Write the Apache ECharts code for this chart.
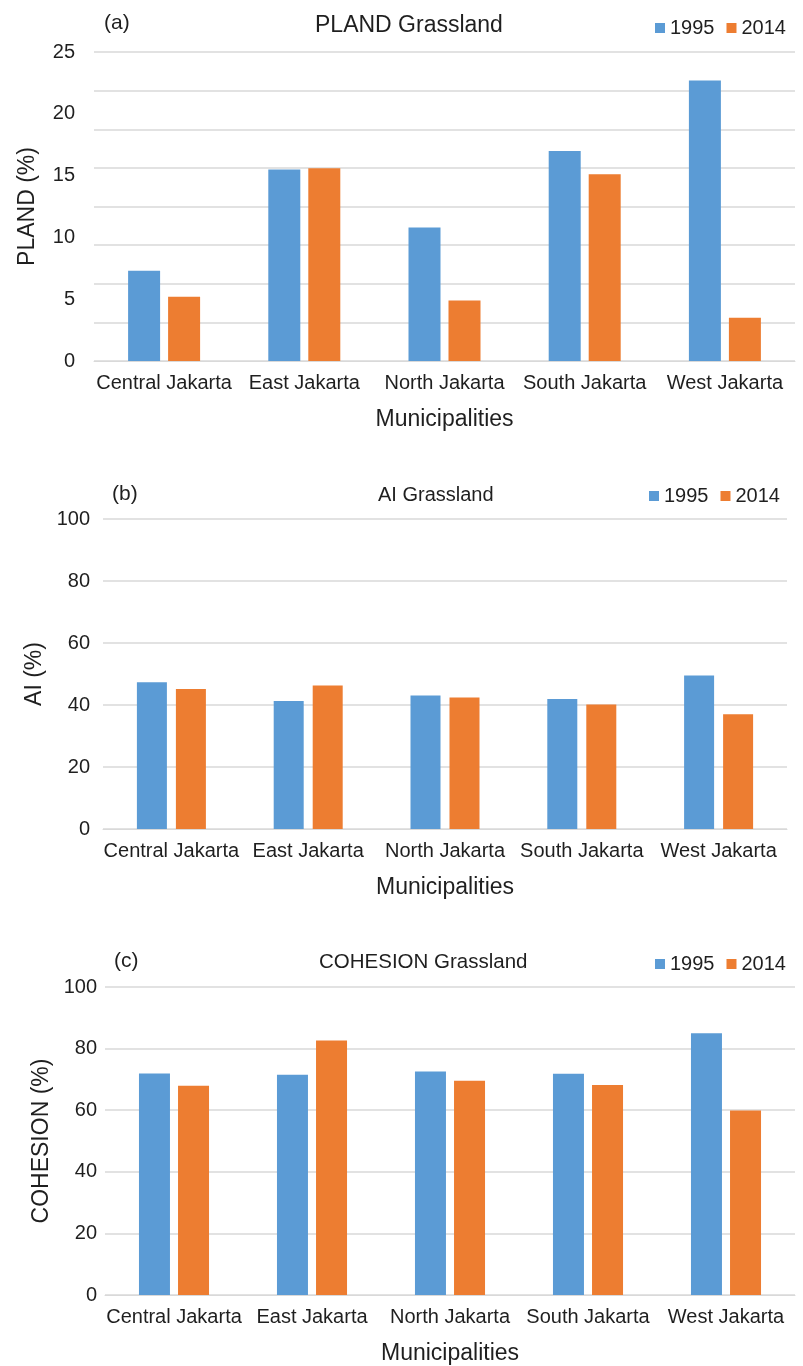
<!DOCTYPE html>
<html>
<head>
<meta charset="utf-8">
<script src="https://cdn.jsdelivr.net/npm/echarts@6/dist/echarts.min.js"></script>
<style>
  html, body { margin: 0; padding: 0; background: #fff; }
  #chart { width: 803px; height: 1366px; }
</style>
</head>
<body>
<div id="chart"></div>
<script>
// municipalities on the x axis
const municipalities = ['Central Jakarta', 'East Jakarta', 'North Jakarta', 'South Jakarta', 'West Jakarta'];
const years = ['1995', '2014'];

// (a) PLAND grassland (%)
const pland1995 = [7.3, 15.5, 10.8, 17.0, 22.7];
const pland2014 = [5.2, 15.6, 4.9, 15.1, 3.5];

// (b) AI grassland (%)
const ai1995 = [47.3, 41.3, 43.1, 41.9, 49.5];
const ai2014 = [45.2, 46.3, 42.4, 40.2, 37.0];

// (c) COHESION grassland (%)
const cohesion1995 = [71.9, 71.5, 72.6, 71.8, 85.0];
const cohesion2014 = [67.9, 82.6, 69.6, 68.2, 59.9];

const blue = '#5B9BD5';
const orange = '#ED7D31';
const gridColor = '#d9d9d9';
const textColor = '#1f1f1f';
const font = 'Liberation Sans, Arial, sans-serif';

const chart = echarts.init(document.getElementById('chart'));

function catAxis(gridIndex) {
    return {
        type: 'category',
        gridIndex: gridIndex,
        data: municipalities,
        name: 'Municipalities',
        nameLocation: 'middle',
        nameGap: 47,
        nameTextStyle: { fontSize: 23, color: textColor, fontFamily: font },
        axisTick: { show: false },
        axisLine: { lineStyle: { color: gridColor, width: 1 } },
        axisLabel: { interval: 0, fontSize: 20, color: textColor, fontFamily: font, margin: 12 }
    };
}

function valAxis(gridIndex, name, max, interval, margin, nameGap) {
    return {
        type: 'value',
        gridIndex: gridIndex,
        min: 0,
        max: max,
        interval: interval,
        name: name,
        nameLocation: 'middle',
        nameGap: nameGap,
        nameTextStyle: { fontSize: 23, color: textColor, fontFamily: font },
        axisLine: { show: false },
        axisTick: { show: false },
        axisLabel: { fontSize: 20, color: textColor, fontFamily: font, margin: margin },
        splitLine: { lineStyle: { color: gridColor, width: 1.5 } }
    };
}

function barSeries(name, data, xIdx, yIdx, width, gap) {
    return {
        name: name,
        type: 'bar',
        xAxisIndex: xIdx,
        yAxisIndex: yIdx,
        data: data,
        barWidth: width,
        barGap: gap,
        itemStyle: { color: name === '1995' ? blue : orange },
        silent: true
    };
}

function legend(left, top) {
    return {
        data: years,
        left: left,
        top: top,
        icon: 'rect',
        itemWidth: 10,
        itemHeight: 10,
        itemGap: 12,
        textStyle: { fontSize: 20, color: textColor, fontFamily: font }
    };
}

const plandAxis = valAxis(0, 'PLAND (%)', 25, 5, 19, 55);
plandAxis.splitLine = { show: false };

const options = {
    animation: false,
    backgroundColor: '#fff',
    title: [
        { text: '(a)', left: 99, top: 8, textStyle: { fontSize: 21, fontWeight: 'normal', color: textColor, fontFamily: font } },
        { text: 'PLAND Grassland', left: 310, top: 9, textStyle: { fontSize: 23, fontWeight: 'normal', color: textColor, fontFamily: font } },
        { text: '(b)', left: 107, top: 479, textStyle: { fontSize: 21, fontWeight: 'normal', color: textColor, fontFamily: font } },
        { text: 'AI Grassland', left: 373, top: 480, textStyle: { fontSize: 20, fontWeight: 'normal', color: textColor, fontFamily: font } },
        { text: '(c)', left: 109, top: 946, textStyle: { fontSize: 21, fontWeight: 'normal', color: textColor, fontFamily: font } },
        { text: 'COHESION Grassland', left: 314, top: 947, textStyle: { fontSize: 20.5, fontWeight: 'normal', color: textColor, fontFamily: font } }
    ],
    legend: [legend(650, 13), legend(644, 481), legend(650, 949)],
    grid: [
        { left: 94, right: 8, top: 52, height: 309 },
        { left: 103, right: 16, top: 519, height: 310 },
        { left: 105, right: 8, top: 987, height: 309 }
    ],
    xAxis: [catAxis(0), catAxis(1), catAxis(2)],
    yAxis: [
        plandAxis,
        // finer gridlines of panel (a)
        {
            type: 'value', gridIndex: 0, min: 0, max: 25, interval: 3.125, position: 'right',
            axisLine: { show: false }, axisTick: { show: false }, axisLabel: { show: false },
            splitLine: { lineStyle: { color: gridColor, width: 1.5 } }
        },
        valAxis(1, 'AI (%)', 100, 20, 13, 47),
        valAxis(2, 'COHESION (%)', 100, 20, 8, 43)
    ],
    series: [
        barSeries('1995', pland1995, 0, 0, 32, '25%'),
        barSeries('2014', pland2014, 0, 0, 32, '25%'),
        barSeries('1995', ai1995, 1, 2, 30, '30%'),
        barSeries('2014', ai2014, 1, 2, 30, '30%'),
        barSeries('1995', cohesion1995, 2, 3, 31, '26%'),
        barSeries('2014', cohesion2014, 2, 3, 31, '26%')
    ]
};

chart.setOption(options);
</script>
</body>
</html>
